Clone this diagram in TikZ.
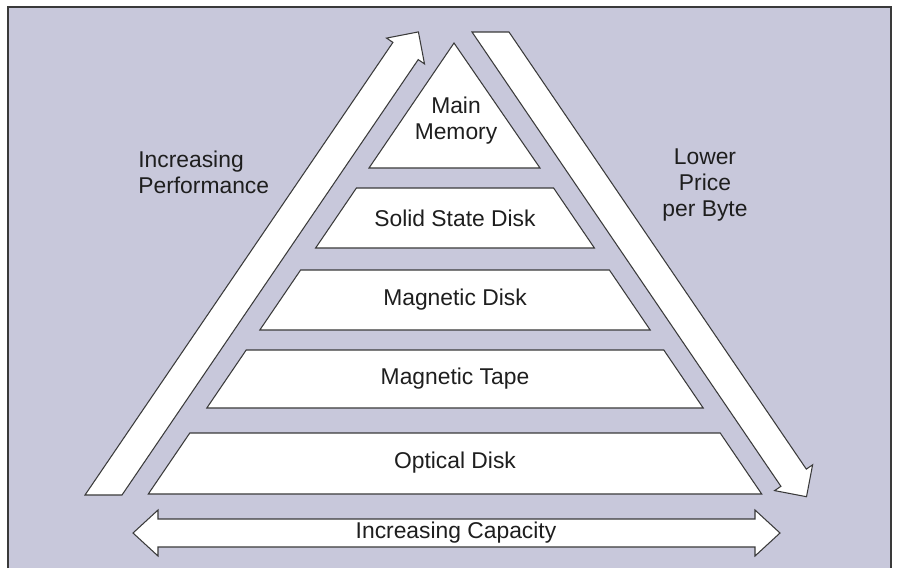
\documentclass[tikz,border=0pt]{standalone}
\usepackage{fontspec}
\setmainfont{Liberation Sans}
\definecolor{PanelLilac}{HTML}{C8C8DB}
\definecolor{EdgeGray}  {HTML}{3A3A3A}
\definecolor{InkGray}   {HTML}{1E1E1E}
\tikzset{
  tier/.style={draw=EdgeGray,fill=white,line width=0.6pt},
  band/.style={draw=EdgeGray,fill=white,line width=0.6pt},
  lbl/.style={font=\fontsize{13}{14.7}\selectfont,text=InkGray,
              inner sep=0pt,align=center},
}

\begin{document}
\begin{tikzpicture}[x=0.02cm,y=-0.02cm]

  \useasboundingbox (0,0) rectangle (898,568);

  % panel
  \fill[PanelLilac] (8,7) rectangle (891,568);
  \draw[EdgeGray,line width=0.7pt] (8,568) -- (8,7) -- (891,7) -- (891,568);

  % pyramid tiers
  \draw[tier] (454,43) -- (369,168) -- (540,168) -- cycle;
  \draw[tier] (356.4,188) -- (553.6,188) -- (594.4,248) -- (315.6,248) -- cycle;
  \draw[tier] (300.6,270) -- (609.4,270) -- (650.2,330) -- (259.8,330) -- cycle;
  \draw[tier] (246.2,350) -- (663.8,350) -- (703.2,408) -- (206.8,408) -- cycle;
  \draw[tier] (189.8,433) -- (720.2,433) -- (761.7,494) -- (148.3,494) -- cycle;

  \node[lbl] (mainmem) at (456,121) {Main\\Memory};
  \node[lbl] (ssd)     at (455,218) {Solid State Disk};
  \node[lbl] (mdisk)   at (455,300) {Magnetic Disk};
  \node[lbl] (mtape)   at (455,379) {Magnetic Tape};
  \node[lbl] (odisk)   at (455,463) {Optical Disk};

  % side arrows
  \draw[band] (85,495) -- (392.9,42.4) -- (386.5,38.1) -- (418.4,31.9)
              -- (424.5,63.9) -- (418.2,59.6) -- (122,495) -- cycle;
  \draw[band] (472,32) -- (509,32) -- (806.3,469.1) -- (812.6,464.8)
              -- (806.5,496.7) -- (774.6,490.6) -- (780.9,486.3) -- cycle;

  % capacity arrow
  \draw[band] (133,533) -- (158,510) -- (158,519) -- (755,519) -- (755,510)
              -- (780,533) -- (755,556) -- (755,547) -- (158,547)
              -- (158,556) -- cycle;
  \node[lbl] (capacity) at (456,533) {Increasing Capacity};

  \node[lbl,align=left,anchor=west] (perf) at (138,172)
    {Increasing\\Performance};
  \node[lbl] (price) at (705,185) {Lower\\Price\\per Byte};

\end{tikzpicture}
\end{document}
